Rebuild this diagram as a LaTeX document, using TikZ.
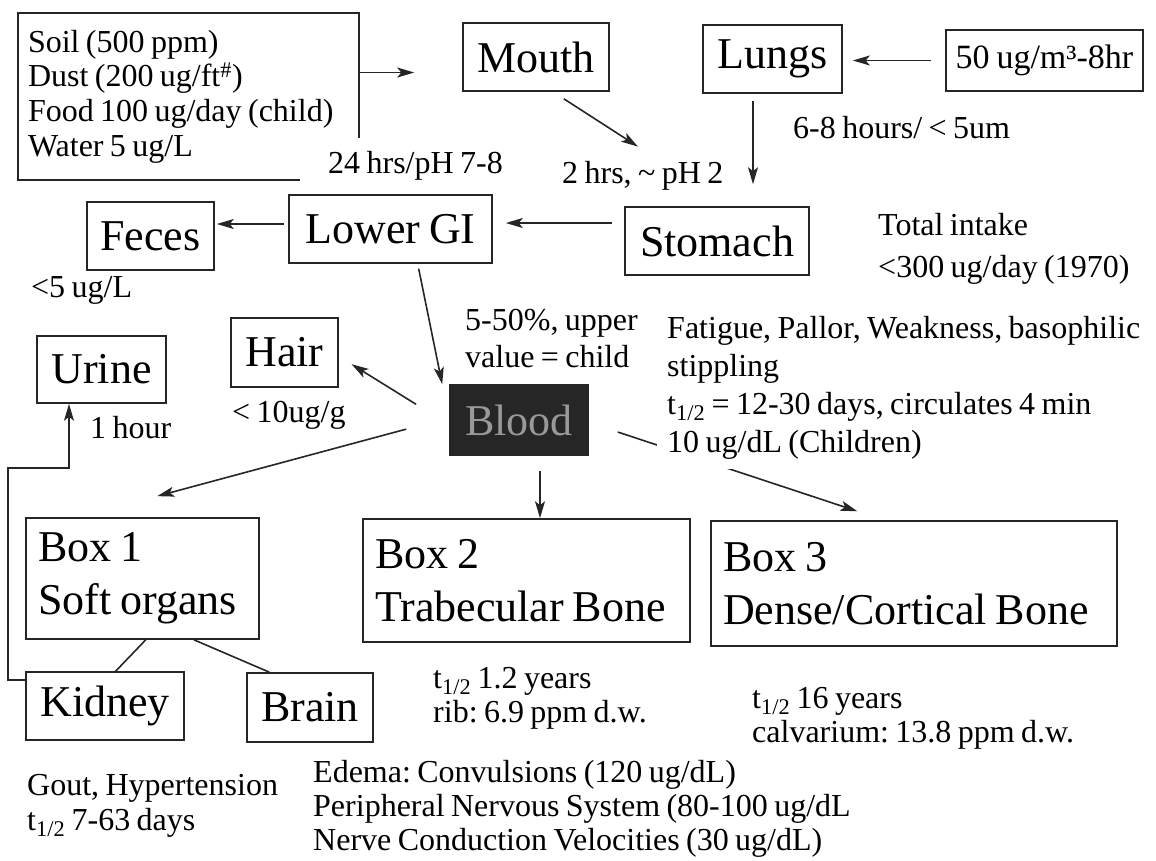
\documentclass[tikz,border=0pt]{standalone}
\usepackage{fontspec}
\setmainfont[WordSpace=0.8]{Liberation Serif}
\usepackage{tikz}
\usetikzlibrary{arrows.meta,calc}

\newcommand{\organfont}{\fontsize{44}{53}\selectfont}
\newcommand{\notefont}{\fontsize{32}{38}\selectfont}
\frenchspacing

\begin{document}
\begin{tikzpicture}[x=1pt,y=-1pt,>={Stealth[length=17pt,width=10pt,inset=4pt]},
  organ/.style={draw=black!85, line width=1.6pt, font=\organfont, inner sep=0pt, minimum height=68pt},
  compartment/.style={draw=black!85, line width=1.6pt, font=\organfont, align=flush left, inner xsep=12pt, inner ysep=0pt},
  note/.style={font=\notefont, align=flush left, anchor=base west, inner sep=0pt},
  link/.style={line width=1.6pt, black!85},
  route/.style={link, ->}]

  \useasboundingbox (0,0) rectangle (1156,860);

  % intake
  \node[font=\fontsize{32}{34.7}\selectfont, align=flush left, text width=321pt, inner xsep=10pt, inner ysep=0pt, minimum height=167pt] (src) at (188.5,96.5)
    {Soil (500 ppm)\\Dust (200 ug/ft\textsuperscript{\#})\\Food 100 ug/day (child)\\Water 5 ug/L};
  \draw[link] ([xshift=282pt]src.south west) -- (src.south west) -- (src.north west) -- (src.north east) -- ++(0,125);

  \node[organ, minimum width=146pt] (mouth) at (536,57) {Mouth};
  \node[organ, minimum width=139pt] (lungs) at (772.5,59) {Lungs};
  \node[organ, font=\fontsize{34}{40}\selectfont, minimum width=197pt, minimum height=61pt] (inhal) at (1044.5,60.5) {50 ug/m³-8hr};
  \node[organ, minimum width=184pt] (stomach) at (717,241) {Stomach};
  \node[organ, minimum width=203pt] (lowergi) at (390.5,229) {Lower GI};
  \node[organ, minimum width=127pt] (feces) at (150.5,236) {Feces};

  % blood and stores
  \node[organ, minimum width=129pt, minimum height=67pt] (urine) at (101.5,369.5) {Urine};
  \node[organ, minimum width=107pt, minimum height=69pt] (hair) at (284.5,352.5) {Hair};
  \node[organ, fill=black!85, text=black!40, minimum width=138pt, minimum height=70pt] (blood) at (519,420) {Blood};
  \node[compartment, text width=209pt, minimum height=121pt] (box1) at (142.5,578.5) {Box 1\\Soft organs};
  \node[compartment, text width=303pt, minimum height=123pt] (box2) at (526.5,580.5) {Box 2\\Trabecular Bone};
  \node[compartment, text width=382pt, minimum height=125pt] (box3) at (914,583.5) {Box 3\\Dense/Cortical Bone};
  \node[organ, minimum width=158pt] (kidney) at (105,706) {Kidney};
  \node[organ, minimum width=126pt, minimum height=69pt] (brain) at (310,707.5) {Brain};

  % connectors
  \coordinate (lungsout) at ([xshift=-19.5pt]lungs.south);
  \coordinate (stomachout) at ([yshift=18pt]stomach.west);
  \coordinate (giout) at ([yshift=5pt]lowergi.west);
  \coordinate (bloodout) at ([xshift=21pt]blood.south);
  \coordinate (kidneyout) at ([yshift=26pt]kidney.west);
  \coordinate (urinein) at ([xshift=-32.5pt]urine.south);
  \coordinate (ret) at (8,468);

  \draw[route, shorten >=48pt] (src.8.5) -- (src.8.5 -| mouth.west);
  \draw[route, shorten <=14pt, shorten >=10pt] (inhal.west) -- (inhal.west -| lungs.east);
  \draw[route, shorten <=13pt, shorten >=110pt] (mouth.-64.8) -- (stomach.69.1);
  \draw[route, shorten <=7pt, shorten >=22pt] (lungsout) -- (lungsout |- stomach.north);
  \draw[route, shorten <=12pt, shorten >=13pt] (stomachout) -- (stomachout -| lowergi.east);
  \draw[route, shorten <=4pt, shorten >=2pt] (giout) -- (giout -| feces.east);
  \draw[route, shorten <=5pt] (lowergi.-52.1) -- ([xshift=-7pt]blood.north west);
  \draw[route, shorten <=39pt, shorten >=15pt] (blood.184.1) -- (hair.-4.8);
  \draw[route, shorten <=44.5pt, shorten >=81pt] (blood.178.8) -- (box1.136.4);
  \draw[route, shorten <=15pt] (bloodout) -- (bloodout |- box2.north);
  \draw[route, shorten <=30.5pt, shorten >=28.5pt] (blood.-2.9) -- (box3.115.6);
  \draw[link] (box1.-87.6) -- (kidney.73.6);
  \draw[link] (box1.-50.7) -- (brain.139.2);
  \draw[route] (kidneyout) -| (ret) -| (urinein);

  % notes (multi-line ones sit on their last baseline)
  \node[note] (hrs24) at (328,173) {24 hrs/pH 7-8};
  \node[note] (hrs2) at (562,183) {2 hrs, \textasciitilde{} pH 2};
  \node[note] (resp) at (793,138) {6-8 hours/ < 5um};
  \node[note, font=\fontsize{32}{42}\selectfont] (intake) at (878,277) {Total intake\\<300 ug/day (1970)};
  \node[note] (urinelvl) at (31,297) {<5 ug/L};
  \node[note] (renal) at (90,438) {1 hour};
  \node[note] (hairlvl) at (232,422) {< 10ug/g};
  \node[note, font=\fontsize{32}{37}\selectfont] (uptake) at (465,367) {5-50\%, upper\\value = child};
  \node[note, fill=white, inner sep=10pt] (symptoms) at (657,452)
    {Fatigue, Pallor, Weakness, basophilic\\stippling\\t\textsubscript{1/2} = 12-30 days, circulates 4 min\\10 ug/dL (Children)};
  \node[note, font=\fontsize{32}{34}\selectfont] (trab) at (433,722) {t\textsubscript{1/2} 1.2 years\\rib: 6.9 ppm d.w.};
  \node[note, font=\fontsize{32}{34}\selectfont] (cort) at (752,742) {t\textsubscript{1/2} 16 years\\calvarium: 13.8 ppm d.w.};
  \node[note, font=\fontsize{32}{35}\selectfont] (renalfx) at (27,830) {Gout, Hypertension\\t\textsubscript{1/2} 7-63 days};
  \node[note, font=\fontsize{32}{34}\selectfont] (neuro) at (313,850)
    {Edema: Convulsions (120 ug/dL)\\Peripheral Nervous System (80-100 ug/dL\\Nerve Conduction Velocities (30 ug/dL)};

\end{tikzpicture}
\end{document}
